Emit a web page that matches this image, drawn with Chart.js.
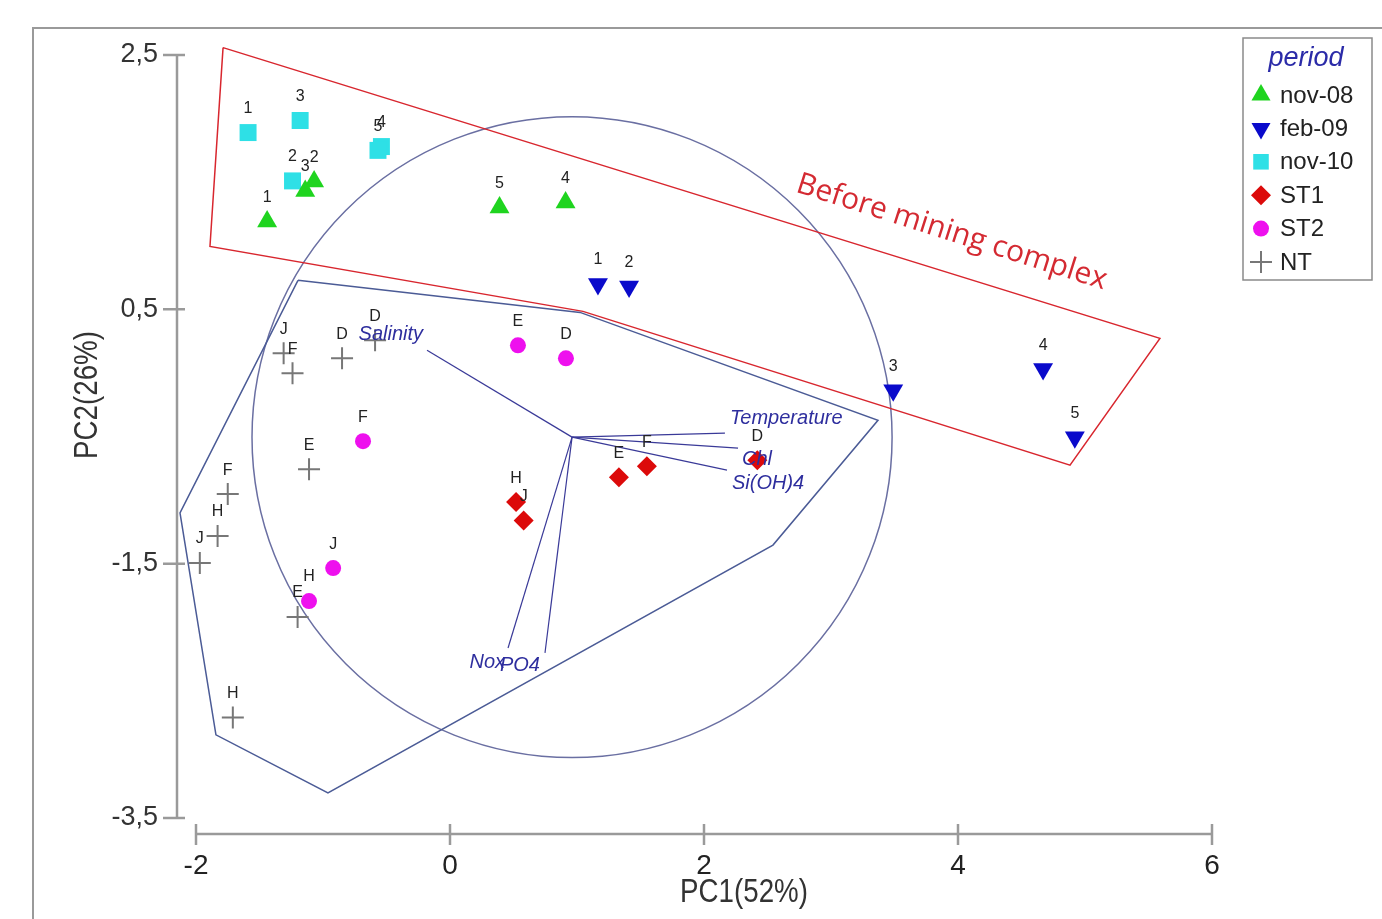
<!DOCTYPE html>
<html>
<head>
<meta charset="utf-8">
<script src="https://cdn.jsdelivr.net/npm/chart.js@4.4.1/dist/chart.umd.min.js"></script>
<style>
  html, body { margin: 0; padding: 0; background: #fff; }
  #wrap { width: 1382px; height: 919px; position: relative; }
</style>
</head>
<body>
<div id="wrap"><canvas id="pca"></canvas></div>
<script>
// ---- data ----
const groups = ['nov-08', 'feb-09', 'nov-10', 'ST1', 'ST2', 'NT'];

const nov08Names = ['1', '2', '3', '4', '5'];
const nov08X = [-1.44, -1.07, -1.14, 0.91, 0.39];
const nov08Y = [1.19, 1.505, 1.43, 1.34, 1.30];

const feb09Names = ['1', '2', '3', '4', '5'];
const feb09X = [1.165, 1.41, 3.49, 4.67, 4.92];
const feb09Y = [0.70, 0.68, -0.136, 0.03, -0.505];

const nov10Names = ['1', '2', '3', '4', '5'];
const nov10X = [-1.59, -1.24, -1.18, -0.54, -0.567];
const nov10Y = [1.89, 1.51, 1.985, 1.78, 1.75];

const st1Names = ['D', 'E', 'F', 'H', 'J'];
const st1X = [2.42, 1.33, 1.55, 0.52, 0.58];
const st1Y = [-0.686, -0.82, -0.733, -1.016, -1.16];

const st2Names = ['D', 'E', 'F', 'H', 'J'];
const st2X = [0.913, 0.535, -0.685, -1.11, -0.92];
const st2Y = [0.115, 0.217, -0.537, -1.794, -1.535];

const ntNames = ['D', 'D', 'J', 'F', 'E', 'F', 'H', 'J', 'E', 'H'];
const ntX = [-0.59, -0.85, -1.31, -1.24, -1.11, -1.75, -1.83, -1.97, -1.2, -1.71];
const ntY = [0.257, 0.115, 0.155, -0.003, -0.757, -0.953, -1.283, -1.495, -1.92, -2.71];

// environmental vectors
const vecNames = ['Salinity', 'Temperature', 'Chl', 'Si(OH)4', 'Nox', 'PO4'];
const vecOrigin = [0.961, -0.505];
const vecX = [-0.181, 2.165, 2.268, 2.181, 0.457, 0.748];
const vecY = [0.178, -0.474, -0.592, -0.765, -2.163, -2.202];
const circleRadius = 2.52;

// hulls
const hullX = [-1.197, 1.024, 3.37, 2.543, -0.961, -1.843, -2.126, -1.197];
const hullY = [0.728, 0.476, -0.372, -1.354, -3.302, -2.846, -1.1, 0.728];
const beforeX = [-1.787, 5.59, 4.882, 1.047, -1.89, -1.787];
const beforeY = [2.558, 0.272, -0.725, 0.484, 0.995, 2.558];
const beforeText = 'Before mining complex';
const beforeTextAt = [3.95, 1.105];

// axes
const xTicks = [-2, 0, 2, 4, 6];
const yTicks = [-3.5, -1.5, 0.5, 2.5];
const yTickLabels = ['-3,5', '-1,5', '0,5', '2,5'];
const xTitle = 'PC1(52%)';
const yTitle = 'PC2(26%)';
const legendTitle = 'period';

// ---- styles ----
const groupX = [nov08X, feb09X, nov10X, st1X, st2X, ntX];
const groupY = [nov08Y, feb09Y, nov10Y, st1Y, st2Y, ntY];
const groupNames = [nov08Names, feb09Names, nov10Names, st1Names, st2Names, ntNames];
const groupStyle = [
    { color: '#1fd41f', pointStyle: 'triangle', radius: 11.5, rotation: 0, legendRadius: 11 },
    { color: '#0a0acb', pointStyle: 'triangle', radius: 11.5, rotation: 180, legendRadius: 11 },
    { color: '#2ee0e6', pointStyle: 'rect', radius: 12, rotation: 0, legendRadius: 11 },
    { color: '#dc0a0a', pointStyle: 'rectRot', radius: 10, rotation: 0, legendRadius: 10 },
    { color: '#ee10ee', pointStyle: 'circle', radius: 8, rotation: 0, legendRadius: 8 },
    { color: '#777777', pointStyle: 'cross', radius: 11, rotation: 0, legendRadius: 11 }
];
// label offsets (px) next to each vector tip: dx, dy, align
const vecLabelPos = [[-4, -16, 'right'], [5, -15, 'left'], [4, 11, 'left'], [5, 13, 'left'], [-3, 14, 'right'], [-5, 12, 'right']];

const pointSets = groups.map((g, gi) => {
    const st = groupStyle[gi];
    const isCross = st.pointStyle === 'cross';
    return {
        label: g,
        data: groupX[gi].map((x, i) => ({ x: x, y: groupY[gi][i] })),
        pointStyle: st.pointStyle,
        pointRadius: st.radius,
        rotation: st.rotation,
        backgroundColor: st.color,
        borderColor: st.color,
        borderWidth: isCross ? 2 : 0,
        showLine: false,
        clip: false
    };
});

const vectorSets = vecNames.map((n, i) => ({
    label: n,
    data: [{ x: vecOrigin[0], y: vecOrigin[1] }, { x: vecX[i], y: vecY[i] }],
    showLine: true,
    pointRadius: 0,
    borderColor: '#3a3a98',
    borderWidth: 1.2,
    clip: false
}));

const hullSets = [
    { label: 'hull', data: hullX.map((x, i) => ({ x: x, y: hullY[i] })), color: '#4b5b96' },
    { label: 'before', data: beforeX.map((x, i) => ({ x: x, y: beforeY[i] })), color: '#d8262e' }
].map(h => ({
    label: h.label,
    data: h.data,
    showLine: true,
    pointRadius: 0,
    borderColor: h.color,
    borderWidth: 1.5,
    tension: 0,
    clip: false
}));

function narrowText(ctx, text, x, y, angle) {
    ctx.save();
    ctx.translate(x, y);
    if (angle) ctx.rotate(angle);
    ctx.scale(0.84, 1);
    ctx.fillText(text, 0, 0);
    ctx.restore();
}

const extras = {
    id: 'extras',
    beforeDraw(chart) {
        const ctx = chart.ctx;
        ctx.save();
        ctx.strokeStyle = '#9a9a9a';
        ctx.lineWidth = 2;
        ctx.beginPath();
        ctx.moveTo(33, 919);
        ctx.lineTo(33, 28);
        ctx.lineTo(1382, 28);
        ctx.stroke();
        ctx.restore();
    },
    beforeDatasetsDraw(chart) {
        const ctx = chart.ctx;
        const xs = chart.scales.x, ys = chart.scales.y;
        const cx = xs.getPixelForValue(vecOrigin[0]);
        const cy = ys.getPixelForValue(vecOrigin[1]);
        const rx = Math.abs(xs.getPixelForValue(vecOrigin[0] + circleRadius) - cx);
        const ry = Math.abs(ys.getPixelForValue(vecOrigin[1] + circleRadius) - cy);
        ctx.save();
        ctx.strokeStyle = '#6a6fa2';
        ctx.lineWidth = 1.5;
        ctx.beginPath();
        ctx.ellipse(cx, cy, rx, ry, 0, 0, Math.PI * 2);
        ctx.stroke();
        ctx.restore();
    },
    afterDraw(chart) {
        const ctx = chart.ctx;
        const xs = chart.scales.x, ys = chart.scales.y;
        const area = chart.chartArea;
        ctx.save();

        // detached axes
        const axX = area.left - 19;
        const axY = area.bottom + 16;
        ctx.strokeStyle = '#9a9a9a';
        ctx.lineWidth = 2.5;
        ctx.beginPath();
        ctx.moveTo(axX, ys.getPixelForValue(yTicks[yTicks.length - 1]));
        ctx.lineTo(axX, ys.getPixelForValue(yTicks[0]));
        yTicks.forEach(v => {
            const p = ys.getPixelForValue(v);
            ctx.moveTo(axX - 14, p);
            ctx.lineTo(axX + 8, p);
        });
        ctx.moveTo(xs.getPixelForValue(xTicks[0]), axY);
        ctx.lineTo(xs.getPixelForValue(xTicks[xTicks.length - 1]), axY);
        xTicks.forEach(v => {
            const p = xs.getPixelForValue(v);
            ctx.moveTo(p, axY - 10);
            ctx.lineTo(p, axY + 11);
        });
        ctx.stroke();

        // axis titles
        ctx.fillStyle = '#333';
        ctx.font = '33px "Liberation Sans", Arial';
        ctx.textAlign = 'center';
        ctx.textBaseline = 'middle';
        narrowText(ctx, xTitle, 744, 893, 0);
        narrowText(ctx, yTitle, 88, 395, -Math.PI / 2);

        // point labels
        ctx.font = '16px "Liberation Sans", Arial';
        ctx.fillStyle = '#222';
        groups.forEach((g, gi) => {
            const meta = chart.getDatasetMeta(gi);
            meta.data.forEach((el, i) => {
                ctx.fillText(groupNames[gi][i], el.x, el.y - 24);
            });
        });

        // vector labels
        ctx.font = 'italic 20px "Liberation Sans", Arial';
        ctx.fillStyle = '#2e2e9e';
        vecNames.forEach((n, i) => {
            const px = xs.getPixelForValue(vecX[i]);
            const py = ys.getPixelForValue(vecY[i]);
            const pos = vecLabelPos[i];
            ctx.textAlign = pos[2];
            ctx.fillText(n, px + pos[0], py + pos[1]);
        });

        // hull annotation
        ctx.save();
        ctx.translate(xs.getPixelForValue(beforeTextAt[0]), ys.getPixelForValue(beforeTextAt[1]));
        ctx.rotate(17.6 * Math.PI / 180);
        ctx.font = '30px "Open Sans", "Noto Sans", sans-serif';
        ctx.fillStyle = '#d42a32';
        ctx.textAlign = 'center';
        ctx.fillText(beforeText, 0, 0);
        ctx.restore();

        // legend
        ctx.strokeStyle = '#8a8a8a';
        ctx.lineWidth = 1.5;
        ctx.strokeRect(1243, 38, 129, 242);
        ctx.font = 'italic 27px "Liberation Sans", Arial';
        ctx.fillStyle = '#2b2ba8';
        ctx.textAlign = 'center';
        ctx.fillText(legendTitle, 1306, 58);
        ctx.textAlign = 'left';
        ctx.font = '24px "Liberation Sans", Arial';
        groups.forEach((g, gi) => {
            const st = groupStyle[gi];
            const y = 95 + gi * 33.4;
            ctx.fillStyle = st.color;
            ctx.strokeStyle = st.color;
            ctx.lineWidth = 2;
            Chart.helpers.drawPoint(ctx, {
                pointStyle: st.pointStyle,
                radius: st.legendRadius,
                rotation: st.rotation,
                borderWidth: st.pointStyle === 'cross' ? 2 : 0
            }, 1261, y);
            ctx.fillStyle = '#222';
            ctx.fillText(g, 1280, y + 1);
        });
        ctx.restore();
    }
};

new Chart(document.getElementById('pca'), {
    type: 'scatter',
    data: { datasets: pointSets.concat(vectorSets, hullSets) },
    options: {
        responsive: true,
        maintainAspectRatio: false,
        animation: false,
        events: [],
        layout: { padding: { top: 55, right: 170, bottom: 0, left: 0 } },
        plugins: { legend: { display: false }, tooltip: { enabled: false } },
        scales: {
            x: {
                type: 'linear', min: -2, max: 6,
                afterBuildTicks: s => { s.ticks = xTicks.map(v => ({ value: v })); },
                afterFit: s => { s.height = 101; },
                grid: { display: false, drawTicks: false },
                border: { display: false },
                ticks: {
                    padding: 31,
                    color: '#222',
                    font: { family: '"Liberation Sans", Arial', size: 28 },
                    callback: v => String(v)
                }
            },
            y: {
                type: 'linear', min: -3.5, max: 2.5,
                afterBuildTicks: s => { s.ticks = yTicks.map(v => ({ value: v })); },
                afterFit: s => { s.width = 196; },
                grid: { display: false, drawTicks: false },
                border: { display: false },
                ticks: {
                    padding: 38,
                    color: '#333',
                    font: { family: '"Liberation Sans", Arial', size: 27 },
                    callback: v => yTickLabels[yTicks.indexOf(v)]
                }
            }
        }
    },
    plugins: [extras]
});
</script>
</body>
</html>
